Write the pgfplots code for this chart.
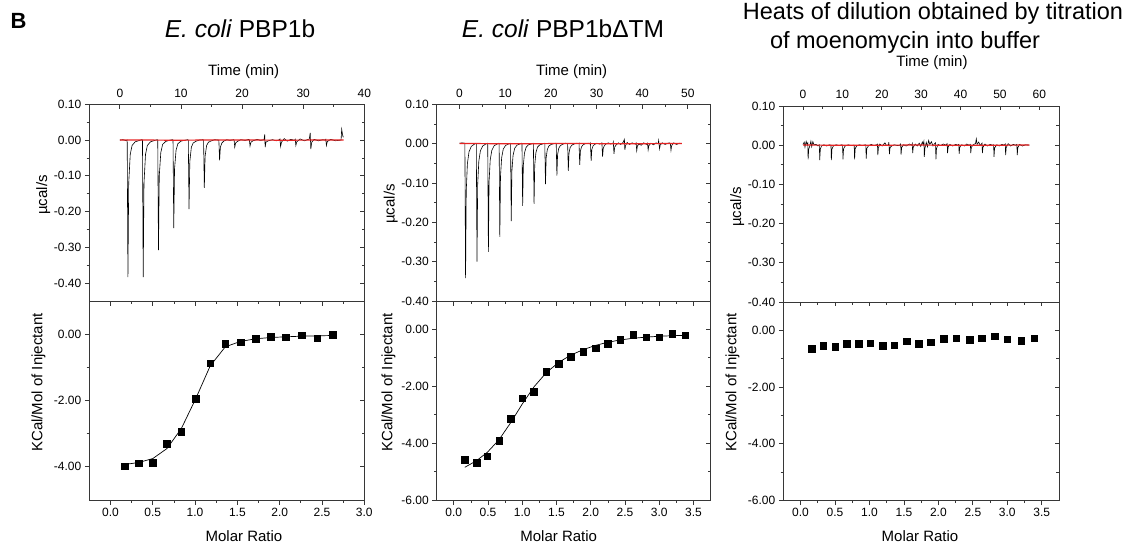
\documentclass[border=0pt]{standalone}
\usepackage{pgfplots}
\pgfplotsset{compat=1.18}
\usepackage{fontspec}
\setmainfont{Liberation Sans}
\definecolor{basered}{RGB}{230,35,35}
\definecolor{axgray}{RGB}{55,55,55}
\pgfplotsset{
  itcbase/.style={scale only axis, anchor=south west,
    axis line style={axgray, line width=0.9bp},
    every tick/.style={axgray, line width=0.8bp},
    major tick length=4.5bp, minor tick length=2.6bp,
    tick label style={font=\fontsize{12bp}{14bp}\selectfont, text=black},
    /pgf/number format/assume math mode=true},
  redline/.style={scale only axis, anchor=south west, hide axis, clip=false},
}
\begin{document}
\begin{tikzpicture}
\useasboundingbox (0bp,0bp) rectangle (1130bp,547bp);
% ---------------- text ----------------
\node[anchor=base west, font=\fontsize{22bp}{24bp}\selectfont\bfseries] at (7bp,518.7bp) {B};
\node[anchor=base, font=\fontsize{24.5bp}{27bp}\selectfont] at (240bp,509.7bp) {\textit{E. coli} PBP1b};
\node[anchor=base, font=\fontsize{24.5bp}{27bp}\selectfont] at (563bp,509.7bp) {\textit{E. coli} PBP1bΔTM};
\node[anchor=base, font=\fontsize{23.5bp}{27bp}\selectfont] at (933bp,527bp) {Heats of dilution obtained by titration};
\node[anchor=base, font=\fontsize{23.5bp}{27bp}\selectfont] at (905bp,498.5bp) {of moenomycin into buffer};
\foreach \cx/\cy in {243.7/471, 571.7/471, 932/480.5}{
  \node[anchor=base, font=\fontsize{15bp}{17bp}\selectfont] at (\cx bp,\cy bp) {Time (min)};}
\foreach \cx in {244, 558.7, 920}{
  \node[anchor=base, font=\fontsize{15bp}{17bp}\selectfont] at (\cx bp,6bp) {Molar Ratio};}
\foreach \bx/\cy in {47/352, 394.5/343, 741/340}{
  \node[anchor=base, rotate=90, font=\fontsize{15bp}{17bp}\selectfont] at (\bx bp,\cy bp) {µcal/s};}
\foreach \bx in {42.4, 392.4, 736.4}{
  \node[anchor=base, rotate=90, font=\fontsize{15bp}{17bp}\selectfont] at (\bx bp,164.5bp) {KCal/Mol of Injectant};}

% ================= Panel 1 =================
\begin{axis}[itcbase, tick align=outside, at={(89.3bp,246bp)}, width=275bp, height=196.7bp,
  xmin=-5, xmax=40, ymin=-0.45, ymax=0.10, xtick=\empty,
  ytick={0.1,0,-0.1,-0.2,-0.3,-0.4}, yticklabels={0.10,0.00,-0.10,-0.20,-0.30,-0.40},
  ytick pos=left, minor y tick num=1]
\end{axis}
\begin{axis}[itcbase, tick align=inside, clip=false, at={(89.3bp,246bp)}, width=275bp, height=196.7bp,
  xmin=-5, xmax=40, ymin=-0.45, ymax=0.10,
  xtick={0,10,20,30,40}, minor x tick num=1, xtick pos=right, xticklabel pos=right,
  xticklabel style={yshift=3.5bp},
  ytick={0.1,0,-0.1,-0.2,-0.3,-0.4}, yticklabels={}, ytick pos=right, minor y tick num=1]
\addplot[black, line width=0.6bp] coordinates {
(0,0.000)(0.5,0.001)(1.1,-0.002)
(1.2,0)(1.32,-0.383)(1.45,-0.12)(1.7,-0.04)(2.0,-0.015)(2.5,-0.005)(3.0,-0.002)(3.6,0.001)
(3.7,0)(3.82,-0.383)(3.95,-0.12)(4.2,-0.04)(4.5,-0.015)(5.0,-0.005)(5.5,-0.002)(6.1,0.001)
(6.2,0)(6.32,-0.308)(6.45,-0.10)(6.7,-0.035)(7.0,-0.012)(7.5,-0.004)(8.0,-0.001)(8.6,0.001)
(8.7,0)(8.82,-0.246)(8.95,-0.08)(9.2,-0.028)(9.5,-0.01)(10.0,-0.003)(10.5,-0.001)(11.1,0.001)
(11.2,0)(11.32,-0.193)(11.45,-0.06)(11.7,-0.02)(12.0,-0.008)(12.5,-0.003)(13.0,0)(13.6,0.001)
(13.7,0)(13.82,-0.134)(13.95,-0.045)(14.2,-0.015)(14.5,-0.006)(15.0,-0.002)(15.5,0.001)(16.1,0)
(16.2,0)(16.32,-0.057)(16.45,-0.02)(16.7,-0.008)(17.0,-0.003)(17.5,0.001)(18.0,-0.001)(18.6,0.001)
(18.7,0)(18.8,-0.02)(18.95,-0.008)(19.3,-0.003)(19.8,0.001)(20.5,-0.001)(21.1,0.002)
(21.2,0)(21.3,-0.017)(21.45,-0.006)(21.8,-0.002)(22.5,0.002)(23.0,-0.001)(23.6,0.001)
(23.7,0.016)(23.78,-0.02)(23.9,-0.006)(24.3,-0.002)(25.0,0.001)(25.6,-0.002)(26.1,0.001)
(26.2,0.003)(26.3,-0.018)(26.45,-0.006)(26.9,0.004)(27.4,-0.003)(28.0,0.002)(28.6,-0.001)
(28.7,0.002)(28.8,-0.015)(28.95,-0.005)(29.5,0.003)(30.2,-0.002)(31.0,0.003)
(31.15,0.02)(31.25,-0.025)(31.4,-0.006)(31.8,0.002)(32.5,-0.002)(33.2,0.001)(33.6,0)
(33.7,0.002)(33.8,-0.015)(33.95,-0.004)(34.5,0.002)(35.3,-0.002)(36.2,0)
(36.3,0.03)(36.5,0.01)(36.6,0.008)};
\end{axis}
\begin{axis}[redline, at={(89.3bp,246bp)}, width=275bp, height=196.7bp,
  xmin=-5, xmax=40, ymin=-0.45, ymax=0.10]
\addplot[draw=basered, line width=1.2bp] coordinates {(0,0.0004)(9,-0.0004)(18,0.0004)(27,-0.0004)(36.6,0.0004)};
\end{axis}
\begin{axis}[itcbase, tick align=outside, at={(89.3bp,47bp)}, width=275bp, height=199bp,
  xmin=-0.25, xmax=3.0, ymin=-5, ymax=1,
  xtick={0,0.5,1,1.5,2,2.5,3}, xticklabels={0.0,0.5,1.0,1.5,2.0,2.5,3.0}, xtick pos=left,
  ytick={0,-2,-4}, yticklabels={0.00,-2.00,-4.00}, ytick pos=left,
  minor x tick num=1, minor y tick num=1]
\addplot[black, line width=0.7bp] coordinates {
(0.166,-3.93)(0.332,-3.87)(0.501,-3.75)(0.667,-3.45)(0.837,-2.85)(1.007,-1.95)
(1.18,-0.95)(1.358,-0.38)(1.536,-0.22)(1.713,-0.14)(1.895,-0.10)(2.073,-0.08)
(2.258,-0.06)(2.444,-0.05)(2.625,-0.04)};
\addplot[only marks, mark=square*, mark size=3.3bp, black] coordinates {
(0.166,-3.98)(0.332,-3.89)(0.501,-3.87)(0.667,-3.31)(0.837,-2.94)(1.007,-1.94)
(1.18,-0.87)(1.358,-0.28)(1.536,-0.24)(1.713,-0.14)(1.895,-0.07)(2.073,-0.09)
(2.258,-0.03)(2.444,-0.12)(2.625,-0.01)};
\end{axis}
\begin{axis}[itcbase, tick align=inside, at={(89.3bp,47bp)}, width=275bp, height=199bp,
  xmin=-0.25, xmax=3.0, ymin=-5, ymax=1,
  xtick={0,0.5,1,1.5,2,2.5,3}, xticklabels={}, xtick pos=right,
  ytick={0,-2,-4}, yticklabels={}, ytick pos=right,
  minor x tick num=1, minor y tick num=1]
\end{axis}

% ================= Panel 2 =================
\begin{axis}[itcbase, tick align=outside, at={(436.7bp,246bp)}, width=274bp, height=196.7bp,
  xmin=-5, xmax=55, ymin=-0.40, ymax=0.10, xtick=\empty,
  ytick={0.1,0,-0.1,-0.2,-0.3,-0.4}, yticklabels={0.10,0.00,-0.10,-0.20,-0.30,-0.40},
  ytick pos=left, minor y tick num=1]
\end{axis}
\begin{axis}[itcbase, tick align=inside, clip=false, at={(436.7bp,246bp)}, width=274bp, height=196.7bp,
  xmin=-5, xmax=55, ymin=-0.40, ymax=0.10,
  xtick={0,10,20,30,40,50}, minor x tick num=1, xtick pos=right, xticklabel pos=right,
  xticklabel style={yshift=3.5bp},
  ytick={0.1,0,-0.1,-0.2,-0.3,-0.4}, yticklabels={}, ytick pos=right, minor y tick num=1]
\addplot[black, line width=0.6bp] coordinates {
(0,0.001)(0.6,0.002)(1.1,0.001)
(1.17,0)(1.32,-0.342)(1.47,-0.12)(1.72,-0.051)(2.07,-0.021)(2.57,-0.007)(3.17,-0.002)(3.6,0.001)
(3.67,0)(3.82,-0.300)(3.97,-0.105)(4.22,-0.045)(4.57,-0.018)(5.07,-0.006)(5.67,-0.0015)(6.1,0.001)
(6.17,0)(6.32,-0.275)(6.47,-0.096)(6.72,-0.041)(7.07,-0.017)(7.57,-0.0055)(8.17,-0.0014)(8.6,0.001)
(8.67,0)(8.82,-0.237)(8.97,-0.083)(9.22,-0.036)(9.57,-0.014)(10.07,-0.0047)(10.67,-0.0012)(11.1,0.001)
(11.17,0)(11.32,-0.197)(11.47,-0.069)(11.72,-0.03)(12.07,-0.012)(12.57,-0.004)(13.17,-0.001)(13.6,0.001)
(13.67,0)(13.82,-0.158)(13.97,-0.055)(14.22,-0.024)(14.57,-0.0095)(15.07,-0.003)(15.67,-0.001)(16.1,0.001)
(16.17,0)(16.32,-0.153)(16.47,-0.054)(16.72,-0.023)(17.07,-0.009)(17.57,-0.003)(18.17,-0.001)(18.6,0.001)
(18.67,0)(18.82,-0.103)(18.97,-0.036)(19.22,-0.015)(19.57,-0.006)(20.07,-0.002)(20.67,0)(21.1,0.001)
(21.17,0)(21.32,-0.081)(21.47,-0.028)(21.72,-0.012)(22.07,-0.005)(22.57,-0.0016)(23.17,0.001)(23.6,0.0)
(23.67,0)(23.82,-0.069)(23.97,-0.024)(24.22,-0.01)(24.57,-0.004)(25.07,-0.001)(25.67,0.001)(26.1,0)
(26.17,0.001)(26.32,-0.054)(26.47,-0.019)(26.72,-0.008)(27.07,-0.003)(27.57,0)(28.17,0.001)(28.6,-0.001)
(28.67,0.001)(28.82,-0.044)(28.97,-0.015)(29.22,-0.006)(29.57,-0.002)(30.07,0.001)(30.67,-0.001)(31.1,0.001)
(31.17,0.002)(31.32,-0.033)(31.47,-0.012)(31.72,-0.005)(32.07,-0.001)(32.6,0.002)(33.1,-0.001)(33.6,0.001)
(33.67,0.004)(33.82,-0.026)(33.97,-0.009)(34.3,-0.003)(34.8,0.002)(35.3,-0.002)(35.8,0.003)
(36.1,0.011)(36.2,-0.016)(36.35,-0.005)(36.7,0.003)(37.2,-0.002)(37.8,0.002)(38.5,-0.001)
(38.67,0.002)(38.8,-0.018)(38.95,-0.006)(39.3,-0.001)(39.8,-0.004)(40.3,0.002)(41.0,-0.002)
(41.17,0.001)(41.3,-0.016)(41.45,-0.005)(41.9,0.001)(42.5,-0.003)(43.0,0.002)(43.5,0)
(43.6,0.008)(43.8,-0.013)(43.95,-0.003)(44.4,0.002)(45.0,-0.002)(45.6,0.001)(46.0,0.002)
(46.17,0)(46.3,-0.017)(46.45,-0.005)(46.9,0.002)(47.5,-0.002)(48.2,0.001)(48.7,0)};
\end{axis}
\begin{axis}[redline, at={(436.7bp,246bp)}, width=274bp, height=196.7bp,
  xmin=-5, xmax=55, ymin=-0.40, ymax=0.10]
\addplot[draw=basered, line width=1.2bp] coordinates {(0,0.0004)(12,-0.0004)(24,0.0004)(36,-0.0004)(48.7,0.0004)};
\end{axis}
\begin{axis}[itcbase, tick align=outside, at={(436.7bp,47bp)}, width=274bp, height=199bp,
  xmin=-0.25, xmax=3.75, ymin=-6, ymax=1,
  xtick={0,0.5,1,1.5,2,2.5,3,3.5}, xticklabels={0.0,0.5,1.0,1.5,2.0,2.5,3.0,3.5}, xtick pos=left,
  ytick={0,-2,-4,-6}, yticklabels={0.00,-2.00,-4.00,-6.00}, ytick pos=left,
  minor x tick num=1, minor y tick num=1]
\addplot[black, line width=0.7bp] coordinates {
(0.16,-4.85)(0.33,-4.62)(0.49,-4.32)(0.66,-3.88)(0.83,-3.28)(1.0,-2.62)(1.17,-2.02)
(1.35,-1.52)(1.53,-1.16)(1.71,-0.90)(1.89,-0.71)(2.07,-0.56)(2.25,-0.45)(2.43,-0.37)
(2.62,-0.31)(2.81,-0.27)(3.0,-0.24)(3.19,-0.22)(3.38,-0.21)};
\addplot[only marks, mark=square*, mark size=3.3bp, black] coordinates {
(0.16,-4.58)(0.33,-4.68)(0.49,-4.46)(0.66,-3.91)(0.83,-3.14)(1.0,-2.42)(1.17,-2.19)
(1.35,-1.48)(1.53,-1.20)(1.71,-0.95)(1.89,-0.78)(2.07,-0.66)(2.25,-0.51)(2.43,-0.36)
(2.62,-0.18)(2.81,-0.28)(3.0,-0.27)(3.19,-0.14)(3.38,-0.20)};
\end{axis}
\begin{axis}[itcbase, tick align=inside, at={(436.7bp,47bp)}, width=274bp, height=199bp,
  xmin=-0.25, xmax=3.75, ymin=-6, ymax=1,
  xtick={0,0.5,1,1.5,2,2.5,3,3.5}, xticklabels={}, xtick pos=right,
  ytick={0,-2,-4,-6}, yticklabels={}, ytick pos=right,
  minor x tick num=1, minor y tick num=1]
\end{axis}

% ================= Panel 3 =================
\begin{axis}[itcbase, tick align=outside, at={(783.3bp,245bp)}, width=275.7bp, height=196bp,
  xmin=-5, xmax=65, ymin=-0.40, ymax=0.10, xtick=\empty,
  ytick={0.1,0,-0.1,-0.2,-0.3,-0.4}, yticklabels={0.10,0.00,-0.10,-0.20,-0.30,-0.40},
  ytick pos=left, minor y tick num=1]
\end{axis}
\begin{axis}[itcbase, tick align=inside, clip=false, at={(783.3bp,245bp)}, width=275.7bp, height=196bp,
  xmin=-5, xmax=65, ymin=-0.40, ymax=0.10,
  xtick={0,10,20,30,40,50,60}, minor x tick num=1, xtick pos=right, xticklabel pos=right,
  xticklabel style={yshift=3.5bp},
  ytick={0.1,0,-0.1,-0.2,-0.3,-0.4}, yticklabels={}, ytick pos=right, minor y tick num=1]
\addplot[black, line width=0.6bp] coordinates {
(0,0.002)(0.3,0.008)(0.5,-0.005)(0.8,0.01)(1.0,0.003)
(1.2,0.006)(1.3,-0.036)(1.45,-0.01)(1.7,-0.003)(2.0,0.01)(2.2,-0.004)(2.5,0.009)(2.8,0.001)(3.3,0.002)(3.8,-0.002)
(4.15,0.001)(4.25,-0.038)(4.4,-0.01)(4.7,-0.002)(5.3,0.001)(6.0,-0.002)(6.7,0.001)
(7.1,0)(7.2,-0.038)(7.35,-0.01)(7.7,-0.002)(8.4,0.001)(9.2,-0.001)(9.8,0.001)
(10.05,0)(10.15,-0.036)(10.3,-0.009)(10.7,-0.002)(11.5,0.001)(12.2,-0.001)(12.8,0)
(13.0,0)(13.1,-0.036)(13.25,-0.009)(13.6,-0.002)(14.3,0.001)(15.1,-0.001)(15.8,0.001)
(15.95,0)(16.05,-0.034)(16.2,-0.008)(16.6,-0.002)(17.3,0.002)(18.0,-0.001)(18.7,0.001)
(18.9,0.003)(19.0,-0.025)(19.15,-0.007)(19.5,0.003)(20.1,-0.002)(20.8,0.006)(21.2,-0.001)(21.7,0.001)
(21.8,0.008)(21.95,-0.023)(22.1,-0.006)(22.5,-0.002)(23.2,0.001)(24.0,-0.001)(24.6,0)
(24.8,0.003)(24.9,-0.024)(25.05,-0.006)(25.5,0.001)(26.2,-0.002)(27.0,0.003)(27.6,0)
(27.75,0.004)(27.85,-0.02)(28.0,-0.005)(28.5,0.003)(29.0,-0.002)(29.5,0.005)(29.9,-0.003)(30.3,0.008)(30.5,0.002)
(30.7,0.01)(30.8,-0.03)(30.95,-0.008)(31.3,0.007)(31.6,-0.004)(31.9,0.012)(32.2,0.002)(32.6,0.009)(33.0,-0.002)(33.4,0.004)
(33.65,0.006)(33.75,-0.036)(33.9,-0.008)(34.3,0.002)(34.9,-0.001)(35.6,0.003)(36.3,0)
(36.6,0.004)(36.7,-0.02)(36.85,-0.005)(37.3,0.002)(38.0,-0.002)(38.8,0.002)(39.3,0)
(39.55,0.002)(39.65,-0.022)(39.8,-0.005)(40.3,0.001)(41.0,-0.002)(41.6,0.003)(42.2,0)
(42.5,0.002)(42.6,-0.02)(42.75,-0.005)(43.3,0.002)(43.8,0.004)(44.0,0.016)(44.2,0.002)(44.6,0.008)(45.0,-0.001)
(45.45,0.005)(45.55,-0.02)(45.7,-0.005)(46.2,0.003)(46.8,-0.002)(47.5,0.002)(48.1,0)
(48.4,0.001)(48.5,-0.03)(48.65,-0.007)(49.2,0.001)(49.8,-0.002)(50.5,0.002)(51.1,0)
(51.35,0.003)(51.45,-0.025)(51.6,-0.006)(52.1,0.004)(52.7,-0.002)(53.4,0.002)(54.0,0)
(54.3,0.002)(54.4,-0.025)(54.55,-0.006)(55.0,0.002)(55.7,-0.002)(56.5,0.001)(57.5,0)};
\end{axis}
\begin{axis}[redline, at={(783.3bp,245bp)}, width=275.7bp, height=196bp,
  xmin=-5, xmax=65, ymin=-0.40, ymax=0.10]
\addplot[draw=basered, line width=1.2bp] coordinates {(0,0.0004)(14,-0.0004)(28,0.0004)(42,-0.0004)(57.5,0.0004)};
\end{axis}
\begin{axis}[itcbase, tick align=outside, at={(783.3bp,46.4bp)}, width=275.7bp, height=198.6bp,
  xmin=-0.25, xmax=3.75, ymin=-6, ymax=1,
  xtick={0,0.5,1,1.5,2,2.5,3,3.5}, xticklabels={0.0,0.5,1.0,1.5,2.0,2.5,3.0,3.5}, xtick pos=left,
  ytick={0,-2,-4,-6}, yticklabels={0.00,-2.00,-4.00,-6.00}, ytick pos=left,
  minor x tick num=1, minor y tick num=1]
\addplot[only marks, mark=square*, mark size=3.3bp, black] coordinates {
(0.16,-0.65)(0.33,-0.55)(0.50,-0.58)(0.67,-0.47)(0.84,-0.47)(1.01,-0.45)(1.19,-0.54)
(1.36,-0.52)(1.54,-0.38)(1.71,-0.46)(1.89,-0.41)(2.08,-0.29)(2.26,-0.28)(2.45,-0.33)
(2.63,-0.28)(2.82,-0.21)(3.00,-0.31)(3.20,-0.36)(3.39,-0.28)};
\end{axis}
\begin{axis}[itcbase, tick align=inside, at={(783.3bp,46.4bp)}, width=275.7bp, height=198.6bp,
  xmin=-0.25, xmax=3.75, ymin=-6, ymax=1,
  xtick={0,0.5,1,1.5,2,2.5,3,3.5}, xticklabels={}, xtick pos=right,
  ytick={0,-2,-4,-6}, yticklabels={}, ytick pos=right,
  minor x tick num=1, minor y tick num=1]
\end{axis}
\end{tikzpicture}
\end{document}
